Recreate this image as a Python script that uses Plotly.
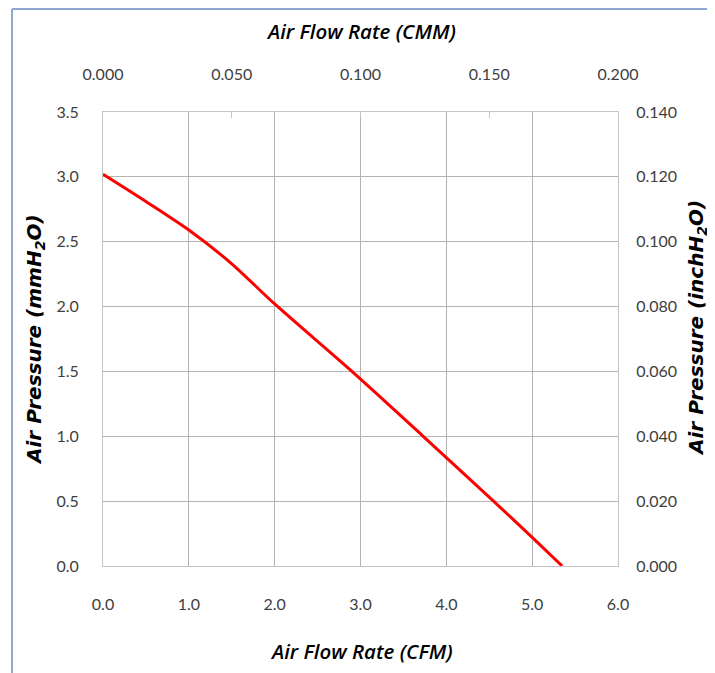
import plotly.graph_objects as go

# Data (CFM vs mmH2O)
flow_cfm = [0.0, 0.5, 1.0, 1.5, 2.0, 2.9, 3.73, 4.55, 5.0, 5.35]
pressure_mm = [3.02, 2.81, 2.59, 2.33, 2.02, 1.50, 1.00, 0.50, 0.22, 0.0]

x_ticks = [0, 1, 2, 3, 4, 5, 6]
y_ticks = [0, 0.5, 1.0, 1.5, 2.0, 2.5, 3.0, 3.5]
x2_ticks = [0, 0.05, 0.10, 0.15, 0.20]
y2_ticks = [0, 0.02, 0.04, 0.06, 0.08, 0.10, 0.12, 0.14]

flow_cmm = [v * 0.0283168 for v in flow_cfm]
pressure_in = [v / 25.4 for v in pressure_mm]

# page offset (browser body margin) compensated
OFF = 8
W, H = 715 - OFF, 673 - OFF
L, R, T, B = 103 - OFF, 618 - OFF, 112 - OFF, 566 - OFF
pw, ph = R - L, B - T

font_main = "Lato"
tick_font = dict(family=font_main, size=16, color="#404040")
grid = "#b3b3b3"
border = "#c4c4c4"

fig = go.Figure()
fig.add_trace(go.Scatter(x=flow_cfm, y=pressure_mm, mode="lines",
                         line=dict(color="#ff0000", width=3, shape="spline", smoothing=0.8),
                         showlegend=False, hoverinfo="skip"))
fig.add_trace(go.Scatter(x=flow_cmm, y=pressure_in, mode="lines", xaxis="x2", yaxis="y2",
                         line=dict(color="rgba(0,0,0,0)", width=0), showlegend=False,
                         hoverinfo="skip"))

fig.update_layout(
    width=W, height=H,
    margin=dict(l=L, r=W - R, t=T, b=H - B),
    paper_bgcolor="white", plot_bgcolor="white",
    xaxis=dict(range=[0, 6], tickvals=x_ticks, tickformat=".1f", showgrid=True,
               gridcolor=grid, gridwidth=1, zeroline=False, showline=True,
               linecolor=border, linewidth=1, ticks="", tickfont=tick_font,
               ticklabelstandoff=24, fixedrange=True),
    yaxis=dict(range=[0, 3.5], tickvals=y_ticks, tickformat=".1f", showgrid=True,
               gridcolor=grid, gridwidth=1, zeroline=False, showline=True,
               linecolor=border, linewidth=1, ticks="", tickfont=tick_font,
               ticklabelstandoff=20, fixedrange=True),
    xaxis2=dict(range=[0, 0.2], tickvals=x2_ticks, tickformat=".3f", overlaying="x",
                side="top", showgrid=False, zeroline=False, showline=True,
                linecolor=border, linewidth=1, ticks="inside", ticklen=6,
                tickcolor=border, tickfont=tick_font, ticklabelstandoff=25,
                fixedrange=True),
    yaxis2=dict(range=[0, 0.14], tickvals=y2_ticks, tickformat=".3f", overlaying="y",
                side="right", showgrid=False, zeroline=False, showline=True,
                linecolor=border, linewidth=1, ticks="", tickfont=tick_font,
                ticklabelstandoff=14, fixedrange=True),
)

def px_x(px):
    return (px - OFF - L) / pw

def px_y(py):
    return (B - (py - OFF)) / ph

x_title_font = dict(family="Open Sans", size=20.5, color="#000000", weight=600)
y_title_font = dict(family="DejaVu Sans", size=20, color="#000000")
fig.add_annotation(text="<i>Air Flow Rate (CMM)</i>", xref="paper", yref="paper",
                   x=px_x(361), y=px_y(31), showarrow=False, font=x_title_font,
                   xanchor="center", yanchor="middle")
fig.add_annotation(text="<i>Air Flow Rate (CFM)</i>", xref="paper", yref="paper",
                   x=px_x(361), y=px_y(651), showarrow=False, font=x_title_font,
                   xanchor="center", yanchor="middle")
fig.add_annotation(text="<b><i>Air Pressure (mmH<sub>2</sub>O)</i></b>", xref="paper",
                   yref="paper", x=px_x(35), y=px_y(340), showarrow=False,
                   font=y_title_font, textangle=-90, xanchor="center", yanchor="middle")
fig.add_annotation(text="<b><i>Air Pressure (inchH<sub>2</sub>O)</i></b>", xref="paper",
                   yref="paper", x=px_x(697), y=px_y(328), showarrow=False,
                   font=y_title_font, textangle=-90, xanchor="center", yanchor="middle")

# outer frame (blue border of the chart image)
frame = "#8fa9d3"
fig.add_shape(type="line", xref="paper", yref="paper", x0=px_x(12), x1=px_x(12),
              y0=px_y(673), y1=px_y(9), line=dict(color=frame, width=2))
fig.add_shape(type="line", xref="paper", yref="paper", x0=px_x(12), x1=px_x(715),
              y0=px_y(9), y1=px_y(9), line=dict(color=frame, width=2))

fig.write_html("out.html")
